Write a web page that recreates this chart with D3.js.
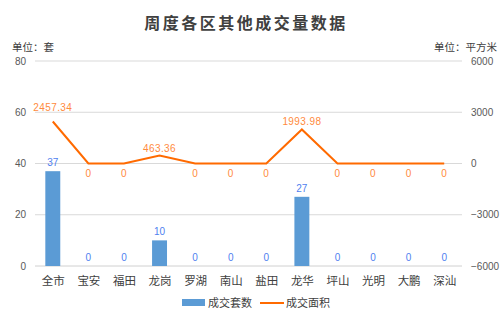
<!DOCTYPE html>
<html><head><meta charset="utf-8">
<script src="https://cdn.jsdelivr.net/npm/d3@7/dist/d3.min.js"></script>
<style>body{margin:0;background:#fff}svg{display:block}</style>
</head><body><div id="c"></div>
<script>
const categories = ["全市","宝安","福田","龙岗","罗湖","南山","盐田","龙华","坪山","光明","大鹏","深汕"];
const units = [37,0,0,10,0,0,0,27,0,0,0,0];
const areas = [2457.34,0,0,463.36,0,0,0,1993.98,0,0,0,0];
const leftTicks = [0,20,40,60,80];
const rightTicks = [-6000,-3000,0,3000,6000];
const title = "周度各区其他成交量数据";
const seriesNames = ["成交套数","成交面积"];

const W=504,H=313;
const m={l:35,r:42,t:61,b:47};
const cjk='"Noto Sans CJK SC","Noto Sans",sans-serif';
const num='"Liberation Sans",Arial,sans-serif';
const svg=d3.select("#c").append("svg").attr("width",W).attr("height",H);

const x=d3.scaleBand().domain(categories).range([m.l,W-m.r]).paddingInner(0.58).paddingOuter(0.29);
const xc=d3.scalePoint().domain(categories).range([m.l,W-m.r]).padding(0.5);
const yL=d3.scaleLinear().domain([0,80]).range([H-m.b,m.t]);
const yR=d3.scaleLinear().domain([-6000,6000]).range([H-m.b,m.t]);

svg.append("text").attr("x",246).attr("y",29).attr("text-anchor","middle")
  .attr("font-family",cjk).attr("font-weight","bold").attr("font-size",16)
  .attr("letter-spacing",2.5).attr("fill","#404040").text(title);
svg.append("text").attr("x",12).attr("y",51).attr("font-family",cjk).attr("font-size",10.5).attr("fill","#404040").text("单位：套");
svg.append("text").attr("x",497).attr("y",51).attr("text-anchor","end").attr("font-family",cjk).attr("font-size",10.5).attr("fill","#404040").text("单位：平方米");

// gridlines
svg.append("g").selectAll("line").data(leftTicks).join("line")
  .attr("x1",m.l).attr("x2",W-m.r).attr("y1",d=>yL(d)).attr("y2",d=>yL(d))
  .attr("stroke",d=>d===0?"#d0d0d0":"#d9d9d9").attr("stroke-width",1);

// left axis
const la=svg.append("g").attr("transform",`translate(${m.l},0)`).call(d3.axisLeft(yL).tickValues(leftTicks).tickSize(0).tickPadding(9));
la.select(".domain").remove();
la.selectAll("text").attr("font-family",num).attr("font-size",10).attr("fill","#595959");
// right axis
const ra=svg.append("g").attr("transform",`translate(${W-m.r},0)`).call(d3.axisRight(yR).tickValues(rightTicks).tickFormat(d3.format("d")).tickSize(0).tickPadding(9));
ra.select(".domain").remove();
ra.selectAll("text").attr("font-family",num).attr("font-size",10).attr("fill","#595959");
// x axis
const xa=svg.append("g").attr("transform",`translate(0,${H-m.b})`).call(d3.axisBottom(xc).tickSize(0).tickPadding(11));
xa.select(".domain").remove();
xa.selectAll("text").attr("font-family",cjk).attr("font-size",11.5).attr("fill","#404040");

// bars
svg.append("g").selectAll("rect").data(units).join("rect")
  .attr("x",(d,i)=>x(categories[i])).attr("width",x.bandwidth())
  .attr("y",d=>yL(d)).attr("height",d=>yL(0)-yL(d)).attr("fill","#5B9BD5");
svg.append("g").selectAll("text").data(units).join("text")
  .attr("x",(d,i)=>xc(categories[i])).attr("y",d=>yL(d)-5).attr("text-anchor","middle")
  .attr("font-family",num).attr("font-size",10).attr("fill","#4F7FF0").text(d=>d);

// line
const line=d3.line().x((d,i)=>xc(categories[i])).y(d=>yR(d));
svg.append("path").datum(areas).attr("d",line).attr("fill","none").attr("stroke","#FF6A00").attr("stroke-width",2);
svg.append("g").selectAll("text").data(areas).join("text")
  .attr("x",(d,i)=>xc(categories[i])).attr("y",(d,i)=>d>0?yR(d)-(i===0?11:4):yR(d)+13).attr("text-anchor","middle")
  .attr("font-family",num).attr("font-size",10).attr("letter-spacing",0.4).attr("fill","#FF8A3D").text(d=>d);

// legend
const lg=svg.append("g");
lg.append("rect").attr("x",182).attr("y",299).attr("width",23).attr("height",7).attr("fill","#5B9BD5");
lg.append("text").attr("x",208).attr("y",307).attr("font-family",cjk).attr("font-size",11).attr("fill","#404040").text(seriesNames[0]);
lg.append("line").attr("x1",260).attr("x2",284).attr("y1",303).attr("y2",303).attr("stroke","#FF6A00").attr("stroke-width",2);
lg.append("text").attr("x",286).attr("y",307).attr("font-family",cjk).attr("font-size",11).attr("fill","#404040").text(seriesNames[1]);
</script></body></html>
